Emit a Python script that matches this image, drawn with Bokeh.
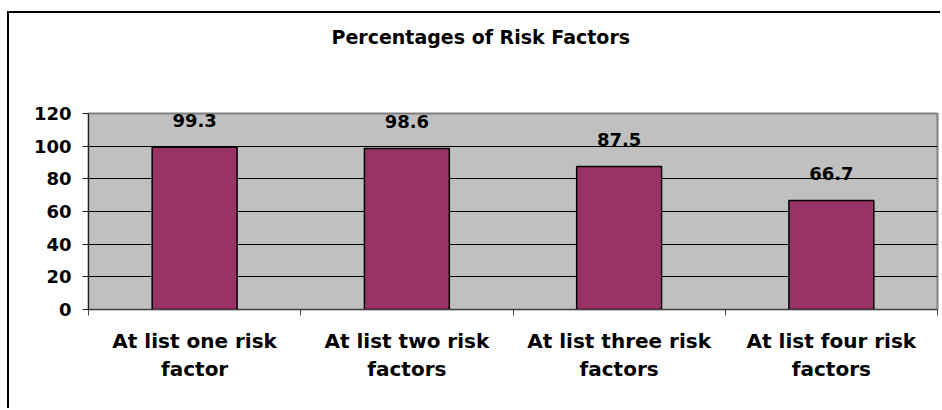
from bokeh.plotting import figure
from bokeh.models import ColumnDataSource, FixedTicker, LabelSet, Range1d, Title
from bokeh.core.properties import value
from bokeh.embed import file_html
from bokeh.resources import INLINE

# ---- data ----
categories = ["At list one risk\nfactor", "At list two risk\nfactors",
              "At list three risk\nfactors", "At list four risk\nfactors"]
values = [99.3, 98.6, 87.5, 66.7]
value_labels = ["99.3", "98.6", "87.5", "66.7"]
y_ticks = [0, 20, 40, 60, 80, 100, 120]
title_text = "Percentages of Risk Factors"

FONT = "DejaVu Sans"
positions = [i + 0.5 for i in range(len(categories))]
source = ColumnDataSource(dict(x=positions, top=values, lab=value_labels))

p = figure(width=933, height=397, output_backend="svg", toolbar_location=None,
           x_range=Range1d(0, len(categories)), y_range=Range1d(0, 120),
           min_border_left=79, min_border_right=5, min_border_top=100, min_border_bottom=101,
           background_fill_color="#c0c0c0", border_fill_color="white")
p.title_location = None
# outer chart border (left and top edges visible in the window)
p.styles = {"margin-left": "7px", "margin-top": "11px",
            "border-left": "2px solid black", "border-top": "2px solid black"}

# spacer between frame and title, then the title itself
spacer = Title(text=" ", text_font_size="1px", standoff=63)
p.add_layout(spacer, "above")
main_title = Title(text=title_text, text_font=FONT, text_font_size="19px",
                   text_font_style="bold", text_color="black",
                   align="left", offset=243, standoff=0)
p.add_layout(main_title, "above")

p.outline_line_color = "#808080"
p.outline_line_width = 2

p.vbar(x="x", top="top", width=0.4, source=source, fill_color="#993366",
       line_color="black", line_width=1.5)

labels = LabelSet(x="x", y="top", text="lab", source=source, y_offset=27,
                  text_align="center", text_baseline="middle",
                  text_font=value(FONT), text_font_size=value("18px"),
                  text_font_style=value("bold"), text_color="black")
p.add_layout(labels)

# grid
p.xgrid.grid_line_color = None
p.ygrid.grid_line_color = "black"
p.ygrid.grid_line_width = 1
p.ygrid.ticker = FixedTicker(ticks=y_ticks)

# y axis
p.yaxis.ticker = FixedTicker(ticks=y_ticks)
p.yaxis.major_label_text_font = FONT
p.yaxis.major_label_text_font_size = "18px"
p.yaxis.major_label_text_font_style = "bold"
p.yaxis.major_label_text_color = "black"
p.yaxis.major_tick_out = 6
p.yaxis.major_tick_in = 0
p.yaxis.major_tick_line_color = "#222222"
p.yaxis.minor_tick_line_color = None
p.yaxis.axis_line_color = "#222222"
p.yaxis.major_label_standoff = 11

# x axis: labels at centers, boundary ticks as minor ticks
p.xaxis.ticker = FixedTicker(ticks=positions, minor_ticks=list(range(len(categories) + 1)))
p.xaxis.major_label_overrides = {pos: c for pos, c in zip(positions, categories)}
p.xaxis.major_label_text_font = FONT
p.xaxis.major_label_text_font_size = "20px"
p.xaxis.major_label_text_font_style = "bold"
p.xaxis.major_label_text_color = "black"
p.xaxis.major_label_text_line_height = 1.2
p.xaxis.major_tick_line_color = None
p.xaxis.minor_tick_line_color = "#444444"
p.xaxis.minor_tick_out = 6
p.xaxis.minor_tick_in = 0
p.xaxis.axis_line_color = "#444444"
p.xaxis.major_label_standoff = 13

open("out.html", "w").write(file_html(p, INLINE))
